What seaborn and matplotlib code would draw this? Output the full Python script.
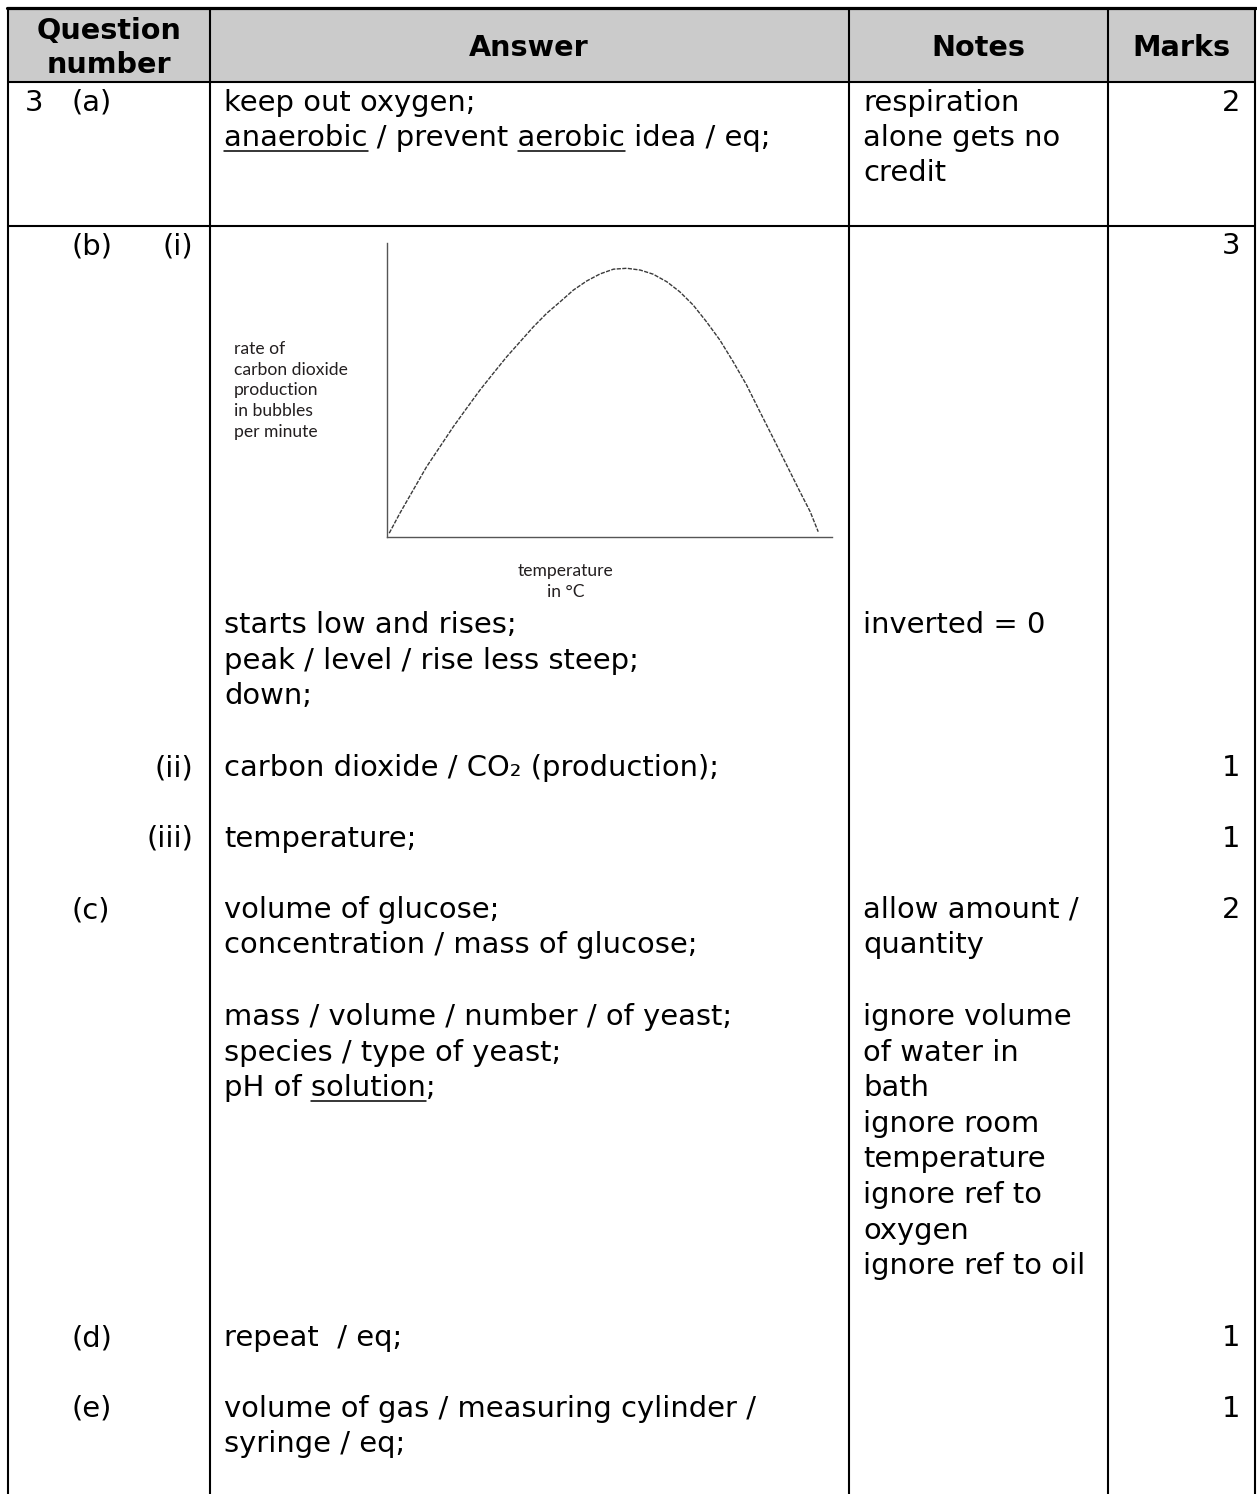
import numpy as np
import pandas as pd
import seaborn as sns
import matplotlib.pyplot as plt
from matplotlib.patches import Rectangle

# sketch graph values (arbitrary 0-100 units)
temperature = [0.5, 2.9, 5.9, 8.9, 11.9, 14.9, 17.9, 20.9, 23.9, 26.9, 29.9, 32.9, 35.9, 38.9,
               41.9, 44.9, 47.9, 50.9, 53.9, 56.9, 59.8, 62.9, 65.8, 68.8, 71.8, 74.8, 77.8,
               80.8, 83.8, 86.8, 89.8, 92.8, 95.1, 96.9]
rate = [1.3, 8.1, 16.0, 23.9, 30.7, 37.5, 43.8, 50.0, 55.7, 61.3, 66.4, 71.5, 76.1, 80.0,
        84.0, 87.1, 89.5, 91.1, 91.4, 90.8, 89.4, 86.8, 83.4, 78.9, 73.2, 67.0, 59.6,
        51.7, 42.6, 33.6, 24.5, 15.4, 8.6, 1.8]

headers = ["Answer", "Notes", "Marks"]
ylabel_lines = ["rate of", "carbon dioxide", "production", "in bubbles", "per minute"]
xlabel_lines = ["temperature", "in \u00b0C"]

sns.set_style("white")
plt.rcParams['font.family'] = ['DejaVu Sans']

W, H = 1257, 1494
fig = plt.figure(figsize=(W / 100, H / 100), dpi=100)
ax = fig.add_axes([0, 0, 1, 1])
ax.set_xlim(0, W)
ax.set_ylim(H, 0)
ax.axis('off')

FS = 20.9
renderer = fig.canvas.get_renderer()

# table frame
ax.add_patch(Rectangle((8, 8), 1247, 74, facecolor='#cbcbcb', edgecolor='none'))
for x in [8, 210, 849, 1108, 1255]:
    ax.plot([x, x], [8, H + 5], color='black', lw=1.5, solid_capstyle='butt')
ax.plot([7, 1256], [8, 8], color='black', lw=2.3)
for y in [82, 226]:
    ax.plot([8, 1255], [y, y], color='black', lw=1.5)


def put(x, y, s, ha='left', **kw):
    kw.setdefault('fontsize', FS)
    return ax.text(x, y, s, ha=ha, va='baseline', color='black', **kw)


def width(s):
    t = ax.text(0, 0, s, fontsize=FS)
    w = t.get_window_extent(renderer).width
    t.remove()
    return w


def put_underlined(x, y, s, words):
    put(x, y, s)
    for pre, word in words:
        x0 = x + width(pre + word) - width(word)
        ax.plot([x0, x0 + width(word)], [y + 5, y + 5], color='black', lw=1.1)


# header
put(109, 39, "Question", ha='center', fontweight='bold', fontsize=20.6)
put(109, 73, "number", ha='center', fontweight='bold', fontsize=20.6)
for cx, h in zip([529, 978, 1181], headers):
    put(cx, 56, h, ha='center', fontweight='bold', fontsize=20.6)

# question labels
put(25, 111, "3")
for y, lab in zip([111, 254, 918, 1346, 1417], ["(a)", "(b)", "(c)", "(d)", "(e)"]):
    put(72, y, lab)
for y, lab in zip([254, 776, 847], ["(i)", "(ii)", "(iii)"]):
    put(193, y, lab, ha='right')

# marks
for y, m in zip([111, 254, 776, 847, 918, 1346, 1417], ["2", "3", "1", "1", "2", "1", "1"]):
    put(1240, y, m, ha='right')

# answers
put(224, 111, "keep out oxygen;")
put_underlined(224, 146, "anaerobic / prevent aerobic idea / eq;",
               [("", "anaerobic"), ("anaerobic / prevent ", "aerobic")])
for y, s in zip([633, 669, 704], ["starts low and rises;", "peak / level / rise less steep;", "down;"]):
    put(224, y, s)
put(224, 776, "carbon dioxide / CO\u2082 (production);")
put(224, 847, "temperature;")
put(224, 918, "volume of glucose;")
put(224, 953, "concentration / mass of glucose;")
put(224, 1025, "mass / volume / number / of yeast;")
put(224, 1061, "species / type of yeast;")
put_underlined(224, 1096, "pH of solution;", [("pH of ", "solution")])
put(224, 1346, "repeat  / eq;")
put(224, 1417, "volume of gas / measuring cylinder /")
put(224, 1452, "syringe / eq;")

# notes
for y, s in zip([111, 146, 181], ["respiration", "alone gets no", "credit"]):
    put(863, y, s)
put(863, 633, "inverted = 0")
put(863, 918, "allow amount /")
put(863, 953, "quantity")
notes_c = ["ignore volume", "of water in", "bath", "ignore room", "temperature",
           "ignore ref to", "oxygen", "ignore ref to oil"]
for i, s in enumerate(notes_c):
    put(863, 1025 + i * 35.6, s)

# sketch graph labels
for i, s in enumerate(ylabel_lines):
    ax.text(234, 354 + i * 20.7, s, fontsize=12.6, family=['Lato', 'DejaVu Sans'],
            va='baseline', color='#231f20')
for i, s in enumerate(xlabel_lines):
    ax.text(566, 576 + i * 21, s, fontsize=12.6, family=['Lato', 'DejaVu Sans'],
            va='baseline', ha='center', color='#231f20')

# sketch graph
gx = fig.add_axes([387 / W, (H - 537) / H, 445 / W, 294 / H])
df = pd.DataFrame({"temperature": temperature, "rate": rate})
sns.lineplot(data=df, x="temperature", y="rate", ax=gx, color='#3a3a3a', lw=1.0,
             sort=False, linestyle=(0, (3, 1)))
gx.set_xlim(0, 100)
gx.set_ylim(0, 100)
gx.set_xticks([])
gx.set_yticks([])
gx.set_xlabel("")
gx.set_ylabel("")
gx.patch.set_alpha(0)
for side in ['top', 'right']:
    gx.spines[side].set_visible(False)
for side in ['left', 'bottom']:
    gx.spines[side].set_color('#555555')
    gx.spines[side].set_linewidth(1.0)

fig.savefig("out.png", dpi=100, facecolor='white')
